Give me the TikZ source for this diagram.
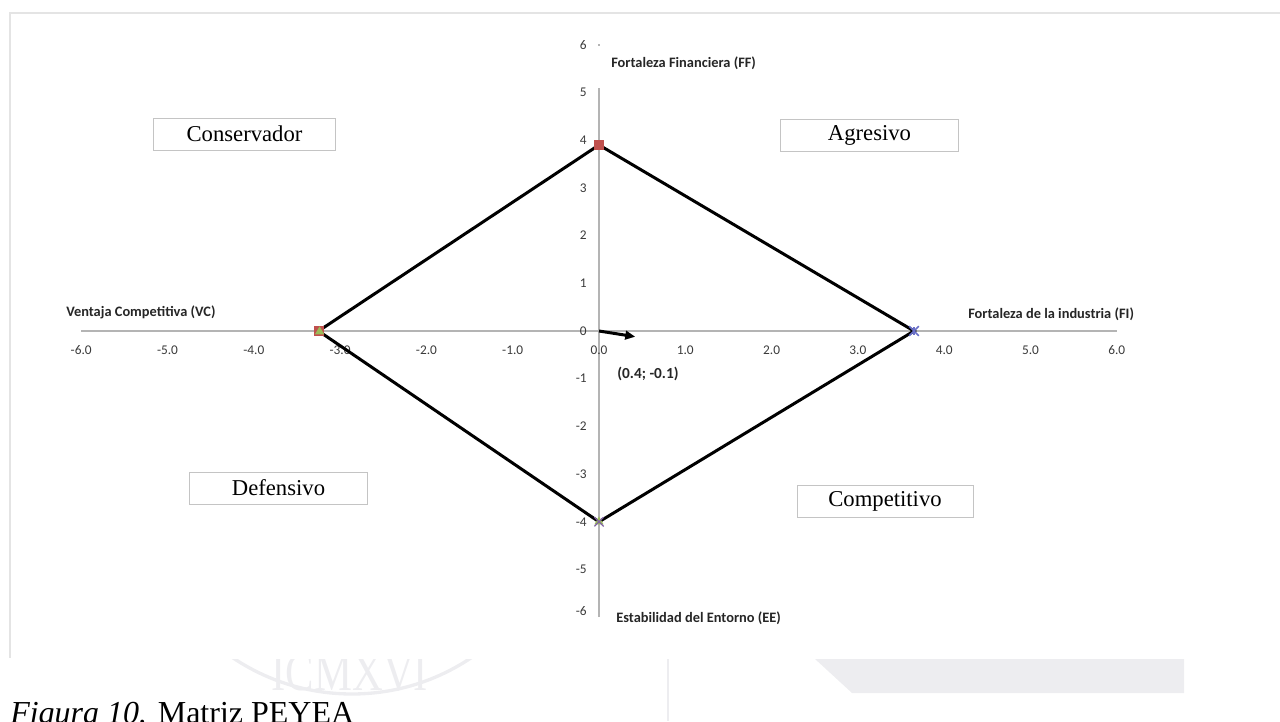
\documentclass[tikz,border=0pt]{standalone}
\usepackage{fontspec}
\setmainfont{Liberation Serif}
\newfontfamily\calibri{Carlito}
\usetikzlibrary{arrows.meta,shapes.misc,shapes.geometric}

\definecolor{axisgray}{HTML}{B4B4B4}
\definecolor{framegray}{HTML}{E4E4E4}
\definecolor{boxgray}{HTML}{C4C4C4}
\definecolor{mred}{HTML}{C0504D}
\definecolor{mgreen}{HTML}{9BBB59}
\definecolor{mblue}{HTML}{6A70C8}
\definecolor{mpurple}{HTML}{8064A2}
\definecolor{wmark}{HTML}{EDEDF0}
\definecolor{ticktext}{HTML}{3A3A3A}

\tikzset{
  axisline/.style={axisgray, line width=1.5pt},
  ticklabel/.style={text=ticktext, inner sep=0pt, font=\calibri\fontsize{10}{12}\selectfont},
  axistitle/.style={text=black!85, inner sep=0pt, font=\calibri\bfseries\fontsize{10.8}{13}\selectfont},
  quadbox/.style={draw=boxgray, line width=0.75pt, fill=white, inner sep=0pt,
    minimum height=24pt, font=\fontsize{17}{20}\selectfont},
  diamondline/.style={black, line width=2.25pt, line join=miter},
  vecline/.style={black, line width=2.25pt, -{Triangle[length=7.5pt,width=6.5pt]}},
  sqmark/.style={rectangle, fill=mred, minimum size=7.5pt, inner sep=0pt},
  trimark/.style={isosceles triangle, isosceles triangle apex angle=60, shape border rotate=90,
    fill=mgreen, minimum size=6pt, inner sep=0pt},
  xmark/.style={cross out, draw=#1, line width=1.2pt, minimum size=6pt, inner sep=0pt},
}

\begin{document}
\begin{tikzpicture}[x=0.75pt, y=-0.75pt]
\useasboundingbox (0,0) rectangle (1280,721);
\clip (0,0) rectangle (1280,721);

% faint background seal below the chart area
\begin{scope}
  \clip (0,659) rectangle (1280,721);
  \draw[wmark, line width=2.5pt] (352,480) circle (214);
  \node[text=wmark, inner sep=0pt, anchor=base, font=\fontsize{40}{40}\selectfont,
        xscale=0.8] (seal) at (350,690) {ICMXVI};
  \fill[wmark] (815,659) -- (1184,659) -- (1184,693) -- (852,693) -- cycle;
  \draw[wmark, line width=1pt] (668,659) -- (668,721);
\end{scope}

% chart frame
\draw[framegray, line width=0.8pt] (10,658) -- (10,13) -- (1280,13);

% chart in data coordinates
\begin{scope}[shift={(599,331)}, x=64.725pt, y=35.775pt]
  \draw[axisline] (-6,0) -- (6,0);
  \draw[axisline] (0,-6) -- (0,5.1);
  \draw[axisline, line width=1pt] (0,5.98) -- (0,6.02);

  \foreach \v in {-6,...,6}
    \node[ticklabel] (xt\v) at (\v,-0.4) {\v.0};
  \foreach \v/\p in {6/6,5/5,4/4,3/3,2/2,1/1,0/0,-1/-1,-2/-2,-3/-3,-4/-4,-5/-5,-6/-5.88}
    \node[ticklabel, anchor=east] (yt\v) at (-0.14,\p) {\v};

  \coordinate (T) at (0,3.9);
  \coordinate (R) at (3.65,0);
  \coordinate (B) at (0,-4);
  \coordinate (L) at (-3.25,0);
  \coordinate (O) at (0,0);
  \coordinate (V) at (0.42,-0.12);
\end{scope}

% axis titles
\node[axistitle, anchor=west] (ff) at (611,63) {Fortaleza Financiera (FF)};
\node[axistitle, anchor=west] (vc) at (66,312) {Ventaja Competitiva (VC)};
\node[axistitle, anchor=west] (fi) at (968,314) {Fortaleza de la industria (FI)};
\node[axistitle, anchor=west] (ee) at (616,618) {Estabilidad del Entorno (EE)};

% quadrant labels
\node[quadbox, minimum width=137pt] (cons) at (244.5,134) {Conservador};
\node[quadbox, minimum width=133pt] (agr) at (869.5,135) {Agresivo};
\node[quadbox, minimum width=133pt] (def) at (278.5,488) {Defensivo};
\node[quadbox, minimum width=132pt] (comp) at (885,501) {Competitivo};

% strategic position polygon and direction vector
\draw[diamondline] (T) -- (R) -- (B) -- (L) -- cycle;
\draw[vecline] (O) -- (V);
\node[inner sep=0pt, text=black!85, font=\calibri\bfseries\fontsize{11.5}{14}\selectfont]
  (vlab) at (648,374) {(0.4; -0.1)};

% data markers
\node[sqmark] (mT) at (T) {};
\node[sqmark] (mL) at (L) {};
\node[trimark] (tL) at ([xshift=0.8pt,yshift=-0.5pt]L) {};
\node[xmark=mblue] (mR) at (R) {};
\draw[mblue, line width=1pt] ([yshift=-3pt]R) -- ([yshift=3pt]R);
\node[trimark] (tB) at (B) {};
\node[xmark=mpurple, line width=0.9pt] (mB) at (B) {};

% caption
\node[anchor=base west, inner sep=0pt, font=\fontsize{24}{28}\selectfont]
  (cap) at (10,723) {\textit{Figura 10.} Matriz PEYEA};
\end{tikzpicture}
\end{document}
